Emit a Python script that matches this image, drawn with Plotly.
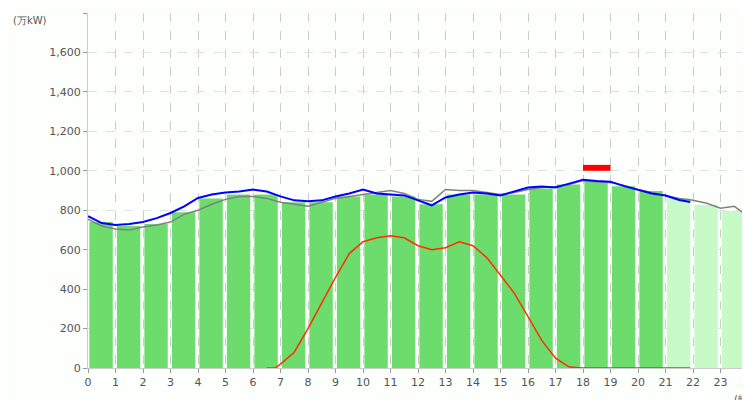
import plotly.graph_objects as go

hours = list(range(24))
bar_vals = [740, 720, 730, 790, 860, 880, 880, 840, 840, 870, 880, 870, 830, 880, 880, 880, 910, 930, 948, 922, 897, 862, 826, 796]
bar_colors = ["#6cdc6c"] * 21 + ["#c8fac8"] * 3

t_half = [i * 0.5 for i in range(49)]
blue_t = t_half[:44] + [21.9]
blue = [770, 735, 725, 730, 740, 760, 786, 820, 862, 880, 890, 895, 905, 895, 870, 850, 845, 850, 870, 885,
        905, 885, 880, 875, 850, 825, 865, 880, 890, 885, 875, 895, 915, 920, 915, 935, 955, 948, 945, 922,
        905, 885, 875, 852, 842]
grey = [755, 720, 705, 700, 715, 725, 740, 780, 800, 830, 855, 870, 870, 860, 840, 830, 820, 840, 860, 870,
        880, 890, 900, 885, 855, 845, 905, 900, 900, 890, 880, 890, 905, 915, 920, 930, 950, 945, 940, 925,
        905, 890, 875, 860, 850, 835, 810, 820, 770]
solar_t = [6.5, 6.8, 7, 7.5, 8, 8.5, 9, 9.5, 10, 10.5, 11, 11.5, 12, 12.5, 13, 13.5, 14, 14.5, 15, 15.5, 16, 16.5, 17, 17.5, 18, 21.9]
solar = [0, 0, 20, 80, 200, 330, 460, 580, 640, 660, 670, 660, 620, 600, 610, 640, 620, 560, 470, 380, 260, 140, 50, 5, 0, 0]
peak_hour = 18
peak_low, peak_high = 1000, 1030

fig = go.Figure()
fig.add_bar(x=[h + 0.475 for h in hours], y=bar_vals, width=0.85, marker_color=bar_colors,
            marker_line_width=0, showlegend=False)
fig.add_bar(x=[peak_hour + 0.5], y=[peak_high - peak_low], base=[peak_low], width=1,
            marker_color="#ff0000", marker_line_width=0, showlegend=False)
fig.add_scatter(x=t_half, y=grey, mode="lines", line=dict(color="#808080", width=1.5), showlegend=False)
fig.add_scatter(x=blue_t, y=blue, mode="lines", line=dict(color="#0000ff", width=2), showlegend=False)
fig.add_scatter(x=solar_t, y=solar, mode="lines", line=dict(color="#ff3000", width=1.5), showlegend=False)

fig.update_layout(
    width=750, height=400, margin=dict(l=80, r=10, t=5, b=40, autoexpand=False),
    paper_bgcolor="#fdfffd", plot_bgcolor="#fdfffd", barmode="overlay",
    font=dict(family="DejaVu Sans", size=11, color="#555"),
    xaxis=dict(range=[0, 24], tickvals=list(range(25)), showgrid=True, gridcolor="#cccccc",
               griddash="dash", ticks="outside", ticklen=4, tickcolor="#999", zeroline=False,
               showline=True, linecolor="#ccc", automargin=False),
    yaxis=dict(range=[0, 1800], tickvals=list(range(0, 1801, 200)), tickformat=",d",
               showgrid=True, gridcolor="#e0e0e0", griddash="dash", ticks="outside", ticklen=4,
               tickcolor="#999", zeroline=False, showline=True, linecolor="#ccc", automargin=False),
    annotations=[
        dict(text="(万kW)", xref="paper", yref="paper", x=-0.088, y=0.98,
             xanchor="center", yanchor="middle", showarrow=False, font=dict(size=10)),
        dict(text="(時)", xref="paper", yref="paper", x=0.992, y=-0.09,
             xanchor="center", yanchor="middle", showarrow=False, font=dict(size=10)),
    ],
)
fig.write_html("out.html")
